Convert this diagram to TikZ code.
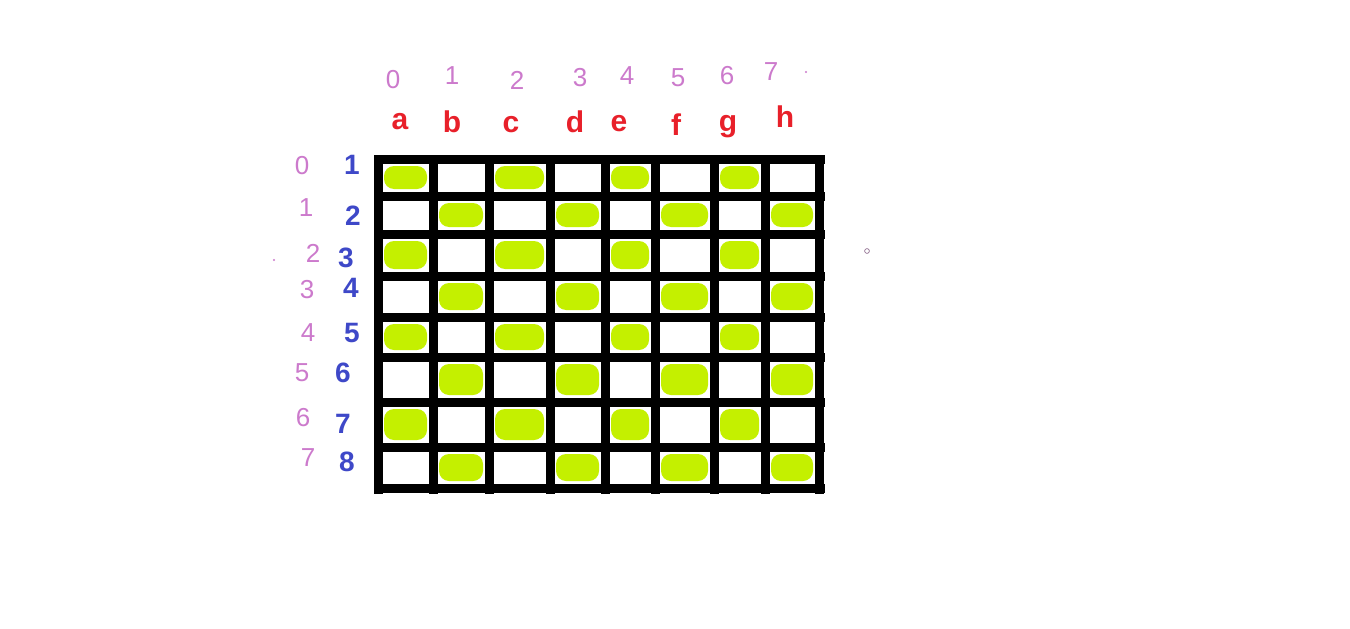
\documentclass[tikz,border=0pt]{standalone}
\usepackage{fontspec}
\setmainfont{Liberation Sans}
\definecolor{blobgreen}{HTML}{C4F000}
\definecolor{pinklab}{HTML}{CC7ACC}
\definecolor{redlab}{HTML}{E8202A}
\definecolor{bluelab}{HTML}{3E48C8}
\tikzset{
  gridline/.style={line width=9pt, black, line cap=rect},
  blob/.style={fill=blobgreen, rounded corners=10pt},
  toplabel/.style={text=pinklab, font=\fontsize{26}{26}\selectfont, inner sep=0pt},
  collabel/.style={text=redlab, font=\bfseries\fontsize{30}{30}\selectfont, inner sep=0pt},
  rowlabel/.style={text=bluelab, font=\bfseries\fontsize{28}{28}\selectfont, inner sep=0pt},
  idxlabel/.style={text=pinklab, font=\fontsize{26}{26}\selectfont, inner sep=0pt},
}
\begin{document}
\begin{tikzpicture}[x=1pt,y=-1pt]
\useasboundingbox[fill=white] (0,0) rectangle (1350,629);
\def\xs{{378,433,489,550,605,655,714,765,819}}
\def\ys{{159,196,234,276,317,357,402,447,488}}
% green blobs
\foreach \r in {0,...,7}{
  \foreach \c in {0,...,7}{
    \pgfmathtruncatemacro\parity{mod(\r+\c,2)}
    \ifnum\parity=0
      \pgfmathsetmacro\xl{\xs[\c]+6}
      \pgfmathsetmacro\xr{\xs[\c+1]-6}
      \pgfmathsetmacro\yt{\ys[\r]+7}
      \pgfmathsetmacro\yb{\ys[\r+1]-7}
      \fill[blob] (\xl,\yt) rectangle (\xr,\yb);
    \fi
  }
}
% grid
\foreach \x in {378,433,489,550,605,655,714,765,819}
  \draw[gridline] (\x,159) -- (\x,489);
\foreach \y in {159,196,234,276,317,357,402,447,488}
  \draw[gridline] (378,\y) -- (820,\y);
% top index numbers
\node[toplabel] (t0) at (393,80) {0};
\node[toplabel] (t1) at (452,76) {1};
\node[toplabel] (t2) at (517,80) {2};
\node[toplabel] (t3) at (580,78) {3};
\node[toplabel] (t4) at (627,76) {4};
\node[toplabel] (t5) at (678,78) {5};
\node[toplabel] (t6) at (727,76) {6};
\node[toplabel] (t7) at (771,72) {7};
\fill[pinklab] (806,72) circle (1.2pt);
% column letters
\node[collabel] (ca) at (400,122) {a};
\node[collabel] (cb) at (452,122) {b};
\node[collabel] (cc) at (511,125) {c};
\node[collabel] (cd) at (575,122) {d};
\node[collabel] (ce) at (619,124) {e};
\node[collabel] (cf) at (676,125) {f};
\node[collabel] (cg) at (728,127) {g};
\node[collabel] (ch) at (785,117) {h};
% left index numbers
\node[idxlabel] (l0) at (302,166) {0};
\node[idxlabel] (l1) at (306,208) {1};
\node[idxlabel] (l2) at (313,253) {2};
\node[idxlabel] (l3) at (307,290) {3};
\node[idxlabel] (l4) at (308,333) {4};
\node[idxlabel] (l5) at (302,373) {5};
\node[idxlabel] (l6) at (303,418) {6};
\node[idxlabel] (l7) at (308,458) {7};
\fill[pinklab] (274,260) circle (1.2pt);
% row numbers
\node[rowlabel] (r1) at (352,165) {1};
\node[rowlabel] (r2) at (353,216) {2};
\node[rowlabel] (r3) at (346,258) {3};
\node[rowlabel] (r4) at (351,288) {4};
\node[rowlabel] (r5) at (352,333) {5};
\node[rowlabel] (r6) at (343,373) {6};
\node[rowlabel] (r7) at (343,424) {7};
\node[rowlabel] (r8) at (347,462) {8};
% stray small circle
\draw[gray!70!violet, line width=0.6pt] (867,251) circle (2.4pt);
\end{tikzpicture}
\end{document}
